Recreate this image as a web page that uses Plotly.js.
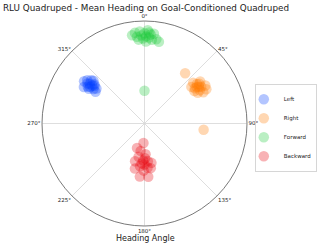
<!DOCTYPE html>
<html>
<head>
<meta charset="utf-8">
<script src="https://cdn.plot.ly/plotly-3.0.1.min.js"></script>
<style>html,body{margin:0;padding:0;background:#fff;}#chart{width:319px;height:245px;}</style>
</head>
<body>
<div id="chart"></div>
<script>
const seriesNames = ["Left", "Right", "Forward", "Backward"];
const seriesColors = ["#023eff", "#ff7c00", "#1ac938", "#e8000b"];

const leftTheta = [305, 307, 303, 309, 306, 302, 308, 304, 306, 301, 310, 305, 307, 303, 306, 304];
const leftR     = [0.68, 0.70, 0.66, 0.67, 0.63, 0.64, 0.62, 0.60, 0.58, 0.69, 0.65, 0.72, 0.61, 0.57, 0.66, 0.64];

const rightTheta = [52, 55, 57, 53, 58, 60, 62, 56, 50, 54, 59, 61, 55, 57, 53, 39, 96];
const rightR     = [0.58, 0.62, 0.66, 0.68, 0.70, 0.60, 0.65, 0.64, 0.62, 0.66, 0.63, 0.69, 0.60, 0.58, 0.64, 0.63, 0.58];

const forwardTheta = [-8, -6, -5, -3, -2, -1, 0, 1, 2, 3, 4, 5, 6, 8, 10, -4, 1, 3, 0];
const forwardR     = [0.87, 0.89, 0.85, 0.90, 0.86, 0.83, 0.88, 0.85, 0.91, 0.84, 0.87, 0.82, 0.88, 0.83, 0.81, 0.82, 0.80, 0.89, 0.32];

const backwardTheta = [183, 197, 188, 178, 190, 194, 182, 175, 170, 180, 186, 176, 192, 181, 185, 176, 172, 179, 184];
const backwardR     = [0.19, 0.25, 0.27, 0.30, 0.33, 0.38, 0.36, 0.37, 0.39, 0.40, 0.42, 0.43, 0.45, 0.46, 0.52, 0.52, 0.44, 0.34, 0.39];

const thetas = [leftTheta, rightTheta, forwardTheta, backwardTheta];
const rs = [leftR, rightR, forwardR, backwardR];

const traces = seriesNames.map((name, i) => ({
  type: "scatterpolar",
  mode: "markers",
  name: name,
  theta: thetas[i],
  r: rs[i],
  marker: { color: seriesColors[i], size: 10.5, opacity: 0.3, line: { width: 0 } },
  hoverinfo: "none"
}));

const W = 319, H = 245;
const layout = {
  width: W, height: H,
  margin: { l: 0, r: 0, t: 0, b: 0, autoexpand: false },
  paper_bgcolor: "#fff",
  font: { family: "DejaVu Sans, sans-serif", color: "#222", size: 6 },
  title: { text: "RLU Quadruped - Mean Heading on Goal-Conditioned Quadruped",
           x: 3 / W, xanchor: "left", y: 1 - 8 / H, yanchor: "middle",
           font: { family: "DejaVu Sans, sans-serif", size: 8.8, color: "#222" },
           automargin: false },
  polar: {
    domain: { x: [42 / W, 247 / W], y: [1 - 226 / H, 1 - 21 / H] },
    bgcolor: "#fff",
    angularaxis: {
      rotation: 90, direction: "clockwise", dtick: 45, ticksuffix: "°",
      showline: true, linecolor: "#555", linewidth: 0.8,
      gridcolor: "#d6d6d6", gridwidth: 0.8, ticks: "",
      tickfont: { size: 5.5, color: "#222" }
    },
    radialaxis: {
      range: [0, 1], showgrid: false, showline: false, showticklabels: false, ticks: ""
    }
  },
  legend: {
    x: 255 / W, xanchor: "left", y: 1 - 84 / H, yanchor: "top",
    bordercolor: "#ccc", borderwidth: 0.8, bgcolor: "rgba(255,255,255,0)",
    indentation: -12,
    font: { size: 5.5, color: "#222" }, tracegroupgap: 0
  },
  annotations: [{
    text: "Heading Angle", xref: "paper", yref: "paper",
    x: 145 / W, y: 1 - 238 / H, xanchor: "center", yanchor: "middle",
    showarrow: false, font: { size: 8, color: "#222" }
  }],
  showlegend: true
};

Plotly.newPlot("chart", traces, layout, { displayModeBar: false, staticPlot: true });
</script>
</body>
</html>
